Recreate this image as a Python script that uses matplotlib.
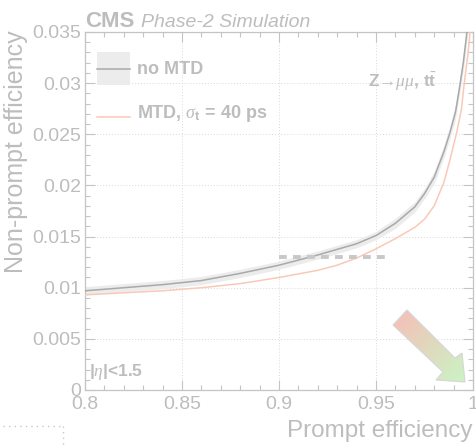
"""
Prompt vs non-prompt efficiency, with and without MTD timing.
"""
import numpy as np
import matplotlib
matplotlib.use("Agg")
import matplotlib.pyplot as plt
from matplotlib.patches import Polygon, Rectangle, Arc
from matplotlib.lines import Line2D
from matplotlib.ticker import MultipleLocator

plt.rcParams.update({
    "font.family": ["Liberation Sans", "DejaVu Sans"],
    "mathtext.fontset": "custom",
    "mathtext.rm": "Liberation Sans",
    "mathtext.it": "Liberation Serif:italic",
    "mathtext.bf": "Liberation Sans:bold",
})

# efficiency curves
prompt_nomtd = [0.80, 0.82, 0.84, 0.86, 0.88, 0.90, 0.92, 0.94, 0.95, 0.96,
                0.97, 0.975, 0.98, 0.985, 0.988, 0.991, 0.993, 0.995, 0.997, 0.999]
nonprompt_nomtd = [0.0097, 0.0100, 0.0103, 0.0107, 0.0114, 0.0122, 0.0132, 0.0143, 0.0151, 0.0163,
                   0.0179, 0.0192, 0.0208, 0.0233, 0.0251, 0.0272, 0.0295, 0.0320, 0.0352, 0.0400]
nonprompt_nomtd_err = [0.0004, 0.0004, 0.0004, 0.0004, 0.0004, 0.0004, 0.0004, 0.0004, 0.0004, 0.0005,
                       0.0005, 0.0005, 0.0006, 0.0006, 0.0006, 0.0007, 0.0007, 0.0008, 0.0009, 0.0010]
prompt_mtd = [0.80, 0.82, 0.84, 0.86, 0.88, 0.90, 0.92, 0.93, 0.94, 0.95, 0.96,
              0.97, 0.975, 0.98, 0.985, 0.988, 0.9915, 0.994, 0.9955, 0.9975, 0.999]
nonprompt_mtd = [0.0093, 0.0095, 0.0097, 0.0100, 0.0104, 0.0110, 0.0117, 0.0122, 0.0129, 0.0138, 0.0148,
                 0.0159, 0.0167, 0.0180, 0.0203, 0.0224, 0.0251, 0.0274, 0.0300, 0.0330, 0.0360]

# reference working point
ref_level = 0.013
ref_range = [0.90, 0.955]

TXT = "#bdbdbd"
AXC = "#c4c4c4"
GRAY = "#a9a9a9"
BAND = "#ececec"
SALMON = "#f9c9b6"

W, H = 477, 446
fig = plt.figure(figsize=(W / 100, H / 100), dpi=100)
ax = fig.add_axes([85 / W, (H - 390) / H, (473 - 85) / W, (390 - 32) / H])

x0 = np.array(prompt_nomtd)
y0 = np.array(nonprompt_nomtd)
e0 = np.array(nonprompt_nomtd_err)
ax.fill_between(x0, y0 - e0, y0 + e0, color=BAND, lw=0, zorder=2)
ax.plot(x0, y0, color=GRAY, lw=1.1, zorder=3)
ax.plot(prompt_mtd, nonprompt_mtd, color=SALMON, lw=1.1, zorder=3)
ax.plot(ref_range, [ref_level, ref_level], color="#c8c8c8", lw=2.8,
        ls=(0, (2.0, 1.6)), zorder=4)

ax.set_xlim(0.8, 1.0)
ax.set_ylim(0, 0.035)
ax.xaxis.set_minor_locator(MultipleLocator(0.01))
ax.yaxis.set_minor_locator(MultipleLocator(0.001))
ax.set_xticks([0.8, 0.85, 0.9, 0.95, 1.0], ["0.8", "0.85", "0.9", "0.95", "1"])
ax.set_yticks([0, 0.005, 0.01, 0.015, 0.02, 0.025, 0.03, 0.035],
              ["0", "0.005", "0.01", "0.015", "0.02", "0.025", "0.03", "0.035"])
ax.tick_params(which="both", direction="in", top=True, right=True,
               color=AXC, labelcolor=TXT, labelsize=14, width=0.8)
ax.tick_params(which="major", length=7.5, pad=3)
ax.tick_params(which="minor", length=3.8)
ax.tick_params(axis="x", pad=4)
for s in ax.spines.values():
    s.set_color(AXC)
    s.set_linewidth(0.9)
ax.grid(True, which="major", color="#d9d9d9", lw=0.7, ls=(0, (1, 2)))
ax.set_axisbelow(True)

# axis titles, ROOT-like placement
fig.text(473 / W, 1 - 437 / H, "Prompt efficiency", ha="right", va="baseline",
         fontsize=17.5, color=TXT)
fig.text(16 / W, 1 - 30 / H, "Non-prompt efficiency", ha="center", va="top",
         rotation=90, fontsize=18, color=TXT)

# header
fig.text(85 / W, 1 - 27 / H, "CMS", fontsize=16, weight="bold", color=TXT, va="baseline")
fig.text(141 / W, 1 - 27 / H, "Phase-2 Simulation", fontsize=14, style="italic",
         color=TXT, va="baseline")

# legend and labels drawn in pixel space
ov = fig.add_axes([0, 0, 1, 1], zorder=10)
ov.axis("off")
ov.add_patch(Rectangle((97, 52), 33, 33, facecolor=BAND, edgecolor="none"))
ov.add_line(Line2D([97, 130], [69, 69], color=GRAY, lw=1.1))
ov.text(137, 70, "no MTD", fontsize=13, weight="bold", color=TXT, va="center")
ov.add_line(Line2D([97, 130], [117, 117], color=SALMON, lw=1.1))
ov.text(137, 114, r"MTD, $\sigma_{\mathregular{t}}$ = 40 ps", fontsize=13, weight="bold",
        color=TXT, va="center")
ov.text(437, 82, r"Z→$\mu\mu$, t$\bar{\mathbf{t}}$", fontsize=12.5, weight="bold",
        color=TXT, va="center", ha="right")
ov.text(89, 372, r"|$\eta$|<1.5", fontsize=12.5, weight="bold", color=TXT, va="center")

# red-to-green direction arrow
arrow_pts = np.array([[393, 325], [407, 310], [455, 358], [462, 353],
                      [465, 382], [436, 380], [443, 372]])
grad = np.linspace(0, 1, 256)
gx, gy = np.meshgrid(grad, grad)
t = (gx + gy) / 2
c0 = np.array([0.97, 0.74, 0.72])
c1 = np.array([0.79, 0.96, 0.77])
img = c0[None, None, :] * (1 - t[..., None]) + c1[None, None, :] * t[..., None]
im = ov.imshow(img, extent=[393, 466, 383, 309], origin="upper", zorder=11)
poly = Polygon(arrow_pts, closed=True, facecolor="none", edgecolor="#d6d6d6", lw=0.8, zorder=12)
ov.add_patch(poly)
im.set_clip_path(poly)

# stray dotted frame at the lower left corner
ov.add_line(Line2D([3, 62], [426, 426], color="#c8c8c8", lw=1.0, ls=(0, (1, 3))))
ov.add_line(Line2D([63, 63], [426, 446], color="#c8c8c8", lw=1.0, ls=(0, (1, 3))))
ov.add_patch(Arc((30, 448), 9, 9, theta1=0, theta2=180, color="#c8c8c8", lw=0.8))

ov.set_aspect("auto")
ov.set_xlim(0, W)
ov.set_ylim(H, 0)

fig.savefig("out.png", dpi=100, facecolor="white")
